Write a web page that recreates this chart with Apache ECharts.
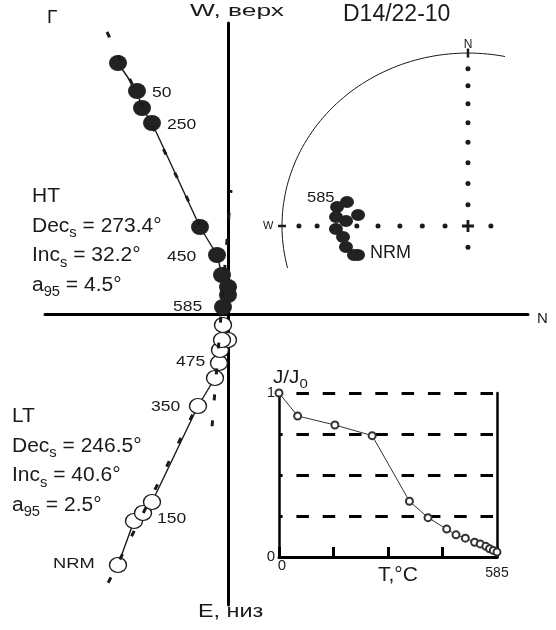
<!DOCTYPE html>
<html>
<head>
<meta charset="utf-8">
<script src="https://cdn.jsdelivr.net/npm/echarts@6/dist/echarts.min.js"></script>
<style>
  html, body { margin: 0; padding: 0; background: #fff; }
  #c { width: 556px; height: 630px; }
</style>
</head>
<body>
<div id="c"></div>
<script>
// ---- Orthogonal (Zijderveld) projection, arbitrary units ----
// Horizontal-plane projection (solid symbols): [N, W]
const horizProj = [[-11.0, 25.1], [-9.1, 22.3], [-8.6, 20.6], [-7.6, 19.1], [-2.8, 8.7],
                   [-1.1, 5.9], [-0.6, 3.9], [0.0, 2.7], [0.0, 1.9], [-0.5, 0.7]];
// Vertical-plane projection (open symbols): [N, down is negative]
const vertProj = [[-11.0, -25.1], [-9.4, -20.7], [-8.5, -19.9], [-7.6, -18.8], [-3.0, -9.2],
                  [-1.3, -6.4], [-0.9, -4.9], [-0.8, -3.6], [0.0, -2.6], [-0.6, -2.6], [-0.5, -1.1]];
// Fitted component directions (dashed)
const fitHTHoriz = [[-12.1, 28.2], [-2.8, 8.9]];
const fitLTVert = [[-12.7, -28.3], [-3.2, -9.4]];
const fitNearAxis = [[0.3, 12.4], [-1.7, -12.6]];

// ---- Stereographic (equal-area) plot of step directions ----
const stereoDec = [254.2, 254.7, 259.5, 264.6, 268.6, 272.5, 274.2, 276.1, 278.9, 282.0];
const stereoInc = [38.5, 36.6, 33.7, 33.0, 29.7, 34.7, 29.6, 40.3, 29.5, 33.9];
const netIncs = [10, 20, 30, 40, 50, 60, 70, 80];
const netDecs = [0, 90, 180, 270];

// ---- Thermal demagnetization curve ----
const demagT = [0, 50, 150, 250, 350, 400, 450, 475, 500, 525, 540, 555, 565, 575, 585];
const demagJ = [1.0, 0.86, 0.805, 0.74, 0.34, 0.24, 0.17, 0.135, 0.115, 0.09, 0.08, 0.065, 0.05, 0.04, 0.03];

const FONT = '"Liberation Sans", Arial, sans-serif';
const INK = '#1a1a1a';

function eqArea(dec, inc) {
  const r = Math.SQRT2 * Math.sin((90 - Math.abs(inc)) / 2 * Math.PI / 180);
  const d = dec * Math.PI / 180;
  return [r * Math.sin(d), r * Math.cos(d)];
}

// primitive circle of the net
const netCircle = [];
for (let a = 0; a <= 360; a += 1.5) {
  netCircle.push([Math.cos(a * Math.PI / 180), Math.sin(a * Math.PI / 180)]);
}
const netDots = [];
netDecs.forEach(d => netIncs.forEach(i => netDots.push(eqArea(d, i))));
const stereoPts = stereoDec.map((d, k) => eqArea(d, stereoInc[k]));
const demagPts = demagT.map((t, k) => [t, demagJ[k]]);

function txt(x, y, text, size, opts) {
  opts = opts || {};
  return {
    type: 'text', x: x, y: y, scaleX: opts.sx || 1, z: 100,
    style: {
      text: text, fontSize: size, fontFamily: FONT, fill: opts.fill || INK,
      align: opts.align || 'left', verticalAlign: opts.va || 'middle',
      lineHeight: opts.lh, rich: opts.rich
    }
  };
}

const subRich = { s: { fontSize: 14, lineHeight: 14, padding: [15, 0, 0, 0], fontFamily: FONT, fill: INK } };

const chart = echarts.init(document.getElementById('c'));
chart.setOption({
  animation: false,
  backgroundColor: '#fff',
  grid: [
    { left: 45, top: 23, width: 483, height: 582 },
    { left: 272.7, top: 44.4, width: 230.6, height: 223.1 },
    { left: 279, top: 393, width: 218, height: 164 }
  ],
  xAxis: [
    { gridIndex: 0, type: 'value', min: -18.3, max: 30,
      axisLine: { onZero: true, lineStyle: { color: '#000', width: 3 } },
      axisTick: { show: false }, axisLabel: { show: false }, splitLine: { show: false } },
    { gridIndex: 1, type: 'value', min: -1.05, max: 0.19, show: false },
    { gridIndex: 2, type: 'value', min: 0, max: 585, interval: 146.25,
      axisLine: { onZero: false, lineStyle: { color: '#000', width: 3 } },
      axisTick: { inside: true, length: 10, lineStyle: { color: '#000', width: 3 } },
      axisLabel: {
        margin: 1, fontSize: 15, fontFamily: FONT, color: INK,
        formatter: v => v === 0 ? '{a|0}' : (v === 585 ? '{b|585}' : ''),
        rich: { a: { fontSize: 15, fontFamily: FONT, color: INK, padding: [0, 0, 0, 6] },
                b: { fontSize: 14, fontFamily: FONT, color: INK, padding: [8, 0, 0, 0] } }
      },
      splitLine: { show: false } }
  ],
  yAxis: [
    { gridIndex: 0, type: 'value', min: -29.1, max: 29.1,
      axisLine: { onZero: true, lineStyle: { color: '#000', width: 3 } },
      axisTick: { show: false }, axisLabel: { show: false }, splitLine: { show: false } },
    { gridIndex: 1, type: 'value', min: -0.24, max: 1.05, show: false },
    { gridIndex: 2, type: 'value', min: 0, max: 1, interval: 0.25,
      axisLine: { onZero: false, lineStyle: { color: '#000', width: 2.5 } },
      axisTick: { show: false },
      axisLabel: { margin: 4, fontSize: 15, fontFamily: FONT, color: INK,
        formatter: v => (v === 0 || v === 1) ? String(v) : '' },
      splitLine: { show: true, lineStyle: { color: '#000', width: 3, type: [12.5, 13.8], dashOffset: 8.9 } } },
    { gridIndex: 2, type: 'value', min: 0, max: 1, position: 'right',
      axisLine: { show: true, onZero: false, lineStyle: { color: '#000', width: 2.5 } },
      axisTick: { show: false }, axisLabel: { show: false }, splitLine: { show: false } }
  ],
  series: [
    // connecting lines of the orthogonal projection
    { type: 'line', xAxisIndex: 0, yAxisIndex: 0, data: horizProj, symbol: 'none', z: 2,
      lineStyle: { color: INK, width: 1.4 } },
    { type: 'line', xAxisIndex: 0, yAxisIndex: 0, data: vertProj, symbol: 'none', z: 2,
      lineStyle: { color: INK, width: 1.4 } },
    // step symbols
    { type: 'scatter', xAxisIndex: 0, yAxisIndex: 0, data: horizProj, symbol: 'circle',
      symbolSize: [18, 16], z: 3, itemStyle: { color: '#222', opacity: 1 } },
    { type: 'scatter', xAxisIndex: 0, yAxisIndex: 0, data: vertProj, symbol: 'circle',
      symbolSize: [17, 15], z: 3, itemStyle: { color: '#fff', borderColor: INK, borderWidth: 1.3, opacity: 1 } },
    // fitted components
    { type: 'line', xAxisIndex: 0, yAxisIndex: 0, data: fitHTHoriz, symbol: 'none', z: 4,
      lineStyle: { color: INK, width: 3, type: [6, 20] } },
    { type: 'line', xAxisIndex: 0, yAxisIndex: 0, data: fitLTVert, symbol: 'none', z: 4,
      lineStyle: { color: INK, width: 3, type: [6, 20], dashOffset: 10 } },
    { type: 'line', xAxisIndex: 0, yAxisIndex: 0, data: fitNearAxis, symbol: 'none', z: 4,
      lineStyle: { color: INK, width: 3, type: [6, 20], dashOffset: 3 } },

    // stereonet
    { type: 'line', xAxisIndex: 1, yAxisIndex: 1, data: netCircle, symbol: 'none', clip: true,
      lineStyle: { color: INK, width: 1 }, z: 2 },
    { type: 'scatter', xAxisIndex: 1, yAxisIndex: 1, data: netDots, symbol: 'circle',
      symbolSize: 5, clip: true, itemStyle: { color: INK, opacity: 1 }, z: 2 },
    { type: 'scatter', xAxisIndex: 1, yAxisIndex: 1, clip: true, symbol: 'rect', z: 2,
      itemStyle: { color: INK, opacity: 1 },
      data: [ { value: eqArea(0, 0), symbolSize: [2.5, 9] }, { value: eqArea(270, 0), symbolSize: [8, 2.5] } ] },
    { type: 'scatter', xAxisIndex: 1, yAxisIndex: 1, data: [eqArea(0, 90)], z: 2,
      symbol: 'path://M0,4.6H12V7.4H0Z M4.6,0H7.4V12H4.6Z', symbolSize: 12, itemStyle: { color: INK, opacity: 1 } },
    { type: 'scatter', xAxisIndex: 1, yAxisIndex: 1, data: stereoPts, symbol: 'circle',
      symbolSize: [14, 12], itemStyle: { color: '#222', opacity: 1 }, z: 3 },

    // J/J0 curve
    { type: 'line', xAxisIndex: 2, yAxisIndex: 2, data: demagPts, symbol: 'emptyCircle', symbolSize: 7,
      showAllSymbol: true, z: 5,
      lineStyle: { color: '#333', width: 1 }, itemStyle: { color: '#333', borderWidth: 1 } }
  ],
  graphic: [
    txt(47, 18, 'Г', 19),
    txt(190, 11, 'W, верх', 17, { sx: 1.55 }),
    txt(343, 15, 'D14/22-10', 23),
    txt(537, 318.5, 'N', 15),
    txt(198, 612, 'E, низ', 18, { sx: 1.3 }),

    // step temperatures
    txt(152, 93, '50', 14, { sx: 1.25 }),
    txt(167, 125, '250', 14, { sx: 1.25 }),
    txt(167, 257, '450', 14, { sx: 1.25 }),
    txt(173, 307, '585', 14, { sx: 1.25 }),
    txt(176, 362, '475', 14, { sx: 1.25 }),
    txt(151, 407, '350', 14, { sx: 1.25 }),
    txt(157, 519, '150', 14, { sx: 1.25 }),
    txt(53, 564, 'NRM', 15, { sx: 1.22 }),

    // component statistics
    txt(32, 181.75, 'HT\nDec{s|s} = 273.4°\nInc{s|s} = 32.2°\na{s|95} = 4.5°', 20,
        { sx: 1.05, va: 'top', lh: 29.5, rich: subRich }),
    txt(12, 401.75, 'LT\nDec{s|s} = 246.5°\nInc{s|s} = 40.6°\na{s|95} = 2.5°', 20,
        { sx: 1.05, va: 'top', lh: 29.5, rich: subRich }),

    // stereonet labels
    txt(468, 44.5, 'N', 12, { align: 'center' }),
    txt(263, 226, 'W', 11),
    txt(307, 197.5, '585', 15, { sx: 1.1 }),
    txt(370, 253.5, 'NRM', 18),

    // demagnetization panel labels
    txt(273, 378.5, 'J/J{s|0}', 18, { sx: 1.15, lh: 22,
        rich: { s: { fontSize: 13, lineHeight: 13, padding: [12, 0, 0, 0], fontFamily: FONT, fill: INK } } }),
    txt(378, 575, 'T,°C', 21)
  ]
});
</script>
</body>
</html>
